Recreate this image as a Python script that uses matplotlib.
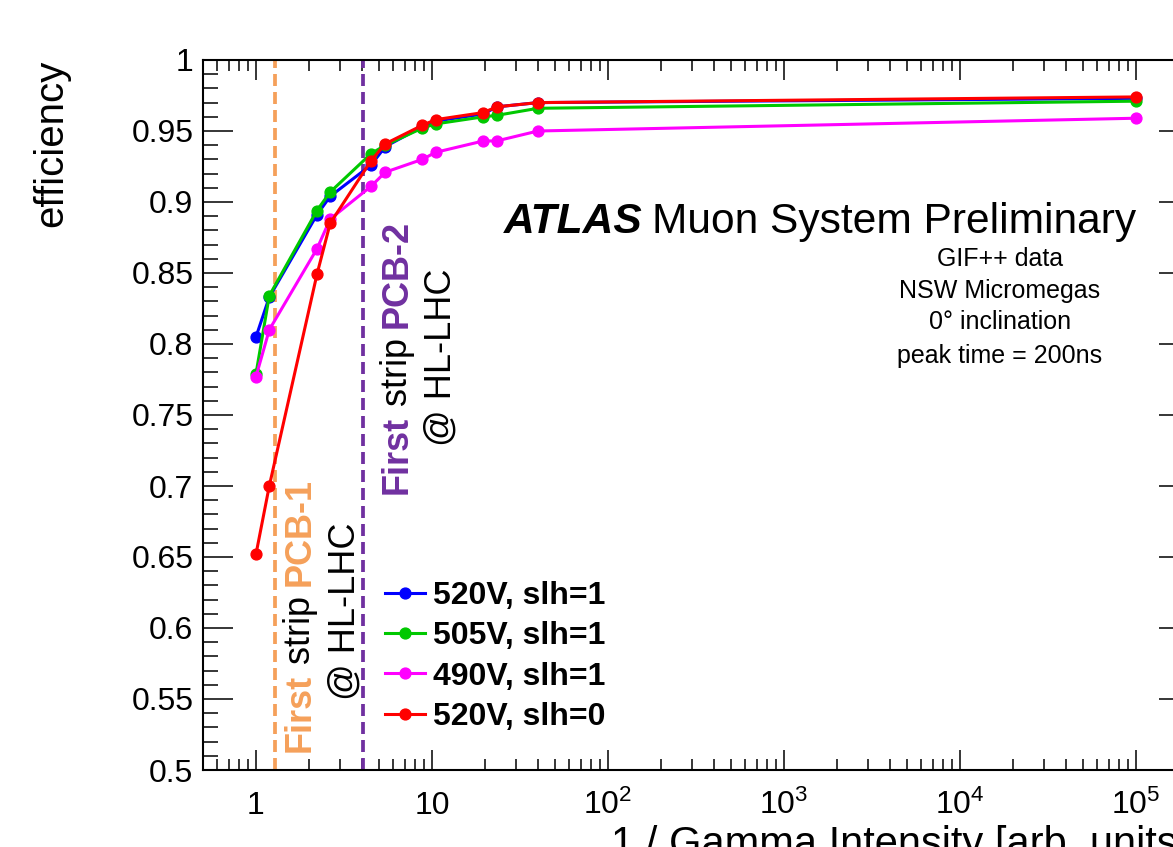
import matplotlib
matplotlib.use("Agg")
import matplotlib.pyplot as plt
from matplotlib import ticker

plt.rcParams["font.family"] = ["Liberation Sans", "DejaVu Sans"]
plt.rcParams["mathtext.fontset"] = "custom"
plt.rcParams["mathtext.rm"] = "Liberation Sans"
plt.rcParams["mathtext.default"] = "regular"

# 1 / gamma intensity (attenuation steps)
intensity = [1.0, 1.19, 2.22, 2.64, 4.5, 5.43, 8.8, 10.5, 19.6, 23.3, 40.0, 1.0e5]

eff_520_slh1 = [0.805, 0.833, 0.891, 0.904, 0.926, 0.939, 0.953, 0.957, 0.962, 0.967, 0.970, 0.973]
eff_505_slh1 = [0.779, 0.834, 0.894, 0.907, 0.934, 0.940, 0.952, 0.955, 0.960, 0.961, 0.966, 0.971]
eff_490_slh1 = [0.777, 0.810, 0.867, 0.888, 0.911, 0.921, 0.930, 0.935, 0.943, 0.943, 0.950, 0.959]
eff_520_slh0 = [0.652, 0.700, 0.849, 0.885, 0.929, 0.941, 0.954, 0.958, 0.963, 0.967, 0.970, 0.974]

series_labels = ["520V, slh=1", "505V, slh=1", "490V, slh=1", "520V, slh=0"]
series_colors = ["#0000FF", "#00C800", "#FF00FF", "#FF0000"]

pcb1_x = 1.28
pcb2_x = 4.05

x_ticks = [1, 10, 100, 1e3, 1e4, 1e5]
x_tick_labels = ["1", "10", "$10^{2}$", "$10^{3}$", "$10^{4}$", "$10^{5}$"]

orange = "#F5A05A"
purple = "#7030A0"

fig = plt.figure(figsize=(11.73, 8.47), dpi=100)
ax = fig.add_axes([203 / 1173, 77 / 847, 986 / 1173, 710 / 847])

# data curves
for vals, lab, col in zip([eff_520_slh1, eff_505_slh1, eff_490_slh1, eff_520_slh0],
                          series_labels, series_colors):
    ax.plot(intensity, vals, color=col, lw=2.2, marker="o", ms=7.8,
            label=lab, zorder=3)

# PCB boundaries
ax.axvline(pcb1_x, color=orange, lw=2.7, dashes=(3.2, 1.6), zorder=2)
ax.axvline(pcb2_x, color=purple, lw=2.7, dashes=(3.2, 1.6), zorder=2)

ax.set_xscale("log")
ax.set_xlim(0.5, 2e5)
ax.set_ylim(0.5, 1.0)

# axes style, ROOT-like
for s in ax.spines.values():
    s.set_linewidth(1.5)
ax.tick_params(which="both", direction="in", top=True, right=True, width=1.1)
ax.tick_params(axis="x", which="major", length=14.5, labelsize=23, pad=32)
ax.tick_params(axis="x", which="minor", length=8)
ax.tick_params(axis="y", which="major", length=21.5, labelsize=23, pad=7)
ax.tick_params(axis="y", which="minor", length=11)

ax.set_xticks(x_ticks, x_tick_labels)
ax.xaxis.set_minor_locator(ticker.LogLocator(base=10, subs=range(2, 10), numticks=20))
ax.xaxis.set_minor_formatter(ticker.NullFormatter())
for t in ax.xaxis.get_major_ticks():
    t.label1.set_verticalalignment("baseline")

ax.yaxis.set_major_locator(ticker.MultipleLocator(0.05))
ax.yaxis.set_minor_locator(ticker.MultipleLocator(0.01))
ax.yaxis.set_major_formatter(ticker.FuncFormatter(lambda v, p: "%g" % round(v, 2)))

ax.set_ylabel("efficiency", fontsize=29, loc="top")
ax.yaxis.set_label_coords(-0.135, 1.0)
ax.set_xlabel("1 / Gamma Intensity [arb. units]", fontsize=30, loc="right")
ax.xaxis.set_label_coords(1.0, -0.078)

# ATLAS label
ax.text(0.4462, 0.7563, "ATLAS", transform=ax.transAxes, fontsize=30.6,
        fontweight="bold", fontstyle="italic", ha="right", va="baseline")
ax.text(0.4554, 0.7563, "Muon System Preliminary", transform=ax.transAxes,
        fontsize=30.6, ha="left", va="baseline")

info_lines = ["GIF++ data", "NSW Micromegas", "0\u00b0 inclination", "peak time = 200ns"]
info_y = [0.7197, 0.6746, 0.631, 0.5831]
for txt, yy in zip(info_lines, info_y):
    ax.text(0.808, yy, txt, transform=ax.transAxes, fontsize=18,
            ha="center", va="center")


def vertical_label(x, y, color, pcb):
    # "First strip PCB-n" stacked bottom to top, mixed colours
    t1 = ax.text(x, y, "First", transform=ax.transAxes, rotation=90,
                 ha="center", va="bottom", fontsize=26, fontweight="bold",
                 color=color)
    t2 = ax.annotate(" strip ", xy=(0.5, 1.0), xycoords=t1, rotation=90,
                     ha="center", va="bottom", fontsize=26, color="black")
    ax.annotate(pcb, xy=(0.5, 1.0), xycoords=t2, rotation=90,
                ha="center", va="bottom", fontsize=26, fontweight="bold",
                color=color)


vertical_label(0.0984, 0.0254, orange, "PCB-1")
ax.text(0.144, 0.224, "@ HL-LHC", transform=ax.transAxes, rotation=90,
        ha="center", va="center", fontsize=26)

vertical_label(0.1968, 0.3887, purple, "PCB-2")
ax.text(0.2414, 0.5817, "@ HL-LHC", transform=ax.transAxes, rotation=90,
        ha="center", va="center", fontsize=26)

leg = ax.legend(loc="upper left", bbox_to_anchor=(0.1846, 0.266), frameon=False,
                prop={"size": 23, "weight": "bold"}, handlelength=1.25,
                handletextpad=0.25, labelspacing=0.32, borderpad=0,
                borderaxespad=0)

fig.savefig("out.png", dpi=100)
plt.close(fig)
